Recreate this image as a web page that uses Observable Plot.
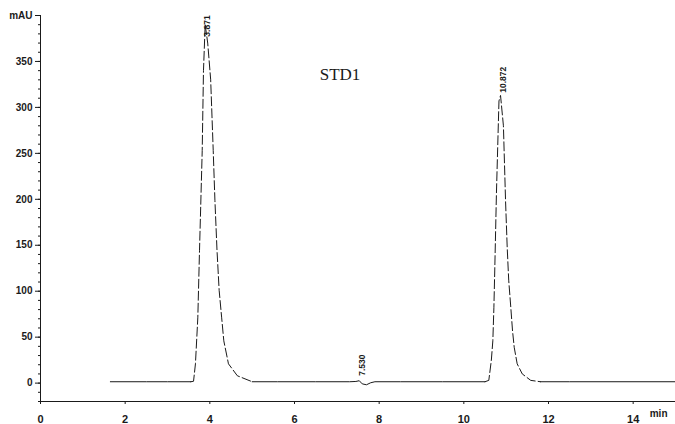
<!DOCTYPE html>
<html><head><meta charset="utf-8">
<script src="https://cdn.jsdelivr.net/npm/d3@7"></script>
<script src="https://cdn.jsdelivr.net/npm/@observablehq/plot@0.6"></script>
<style>
body{margin:0;background:#fff;}
#chart svg{display:block;}
</style></head>
<body><div id="chart"></div>
<script>
// Chromatogram STD1 (time in min, signal in mAU)
const title = "STD1";
const xTicks = [0, 2, 4, 6, 8, 10, 12, 14];
const yTicks = [0, 50, 100, 150, 200, 250, 300, 350, 400];
const yMinorTicks = d3.range(-20, 401, 10);
const peakLabels = ["3.871", "7.530", "10.872"];
const peakTimes = [3.871, 7.53, 10.872];
const labelY = [377, 8, 316];

// baseline portions (solid)
const baseT1 = [1.65, 2.5, 3.0, 3.55];
const baseY1 = [1.5, 1.5, 1.5, 1.5];
const baseT2 = [5.0, 5.6, 6.5, 7.3, 7.45, 7.53, 7.6, 7.7, 7.8, 7.9, 8.5, 9.5, 10.5];
const baseY2 = [1.5, 1.5, 1.5, 1.5, 1.8, 2.6, -0.8, -1.8, 0.4, 1.5, 1.5, 1.5, 1.5];
const baseT3 = [11.81, 12.5, 13.5, 15.0];
const baseY3 = [1.5, 1.5, 1.5, 1.5];

// peaks (dashed, as printed)
const peak1T = [3.55, 3.615, 3.66, 3.716, 3.756, 3.82, 3.85, 3.89, 3.95, 4.02, 4.08, 4.12, 4.17, 4.22, 4.28, 4.33, 4.44, 4.65, 5.0];
const peak1Y = [1.5, 2, 21, 71, 144, 253, 340, 390, 370, 330, 253, 199, 144, 101, 71, 46, 21, 8, 1.5];
const peak2T = [10.5, 10.59, 10.65, 10.685, 10.71, 10.73, 10.77, 10.83, 10.867, 10.935, 10.985, 11.025, 11.06, 11.11, 11.15, 11.19, 11.26, 11.38, 11.58, 11.81];
const peak2Y = [1.5, 3, 25, 46, 82, 122, 206, 307, 313, 280, 199, 147, 112, 82, 57, 39, 21, 10, 3, 1.5];

const zip = (ts, ys, id) => ts.map((t, i) => ({t, v: ys[i], id}));
const base = [...zip(baseT1, baseY1, "b1"), ...zip(baseT2, baseY2, "b2"), ...zip(baseT3, baseY3, "b3")];
const peaks = [...zip(peak1T, peak1Y, "p1"), ...zip(peak2T, peak2Y, "p2")];
const labels = peakLabels.map((s, i) => ({s, t: peakTimes[i], v: labelY[i]}));

const ink = "#1a1a1a";
const chart = Plot.plot({
  width: 675, height: 424,
  marginLeft: 40, marginRight: 0, marginTop: 15, marginBottom: 23,
  x: {domain: [0, 15], label: null},
  y: {domain: [-20, 400], label: null},
  style: {fontFamily: "'Liberation Sans Narrow','Liberation Sans',Arial,sans-serif", fontSize: "10px", color: ink, background: "#fff"},
  marks: [
    Plot.ruleX([0], {y1: -20, y2: 400, stroke: ink, strokeWidth: 1}),
    Plot.ruleY([-20], {x1: 0, x2: 15, stroke: ink, strokeWidth: 1}),
    Plot.axisY({ticks: yMinorTicks, tickSize: 2, tickFormat: () => "", label: null, stroke: ink}),
    Plot.axisY({ticks: yTicks, tickSize: 5, tickPadding: 3, fontWeight: "bold", fontSize: 10, label: null,
      tickFormat: d => d === 400 ? "mAU" : String(d), stroke: ink, fill: ink}),
    Plot.axisX({ticks: xTicks, tickSize: 3, tickPadding: 11, fontWeight: "bold", fontSize: 11, label: null,
      tickFormat: d => String(d), stroke: ink, fill: ink}),
    Plot.text(["min"], {frameAnchor: "bottom-right", dx: -8, dy: 15, fontSize: 10, fontWeight: "bold", fill: ink}),
    Plot.line(base, {x: "t", y: "v", z: "id", stroke: ink, strokeWidth: 1}),
    Plot.line(peaks, {x: "t", y: "v", z: "id", stroke: ink, strokeWidth: 1, strokeDasharray: "9,3"}),
    Plot.text(labels, {x: "t", y: "v", text: "s", rotate: -90, textAnchor: "start", dx: 3,
      fontSize: 8.5, fontWeight: "bold", fill: ink}),
    Plot.text([title], {frameAnchor: "top", dx: -18, dy: 52, fontSize: 17,
      fontFamily: "'Liberation Serif','DejaVu Serif',serif", fill: ink})
  ]
});
document.getElementById("chart").appendChild(chart);
</script></body></html>
